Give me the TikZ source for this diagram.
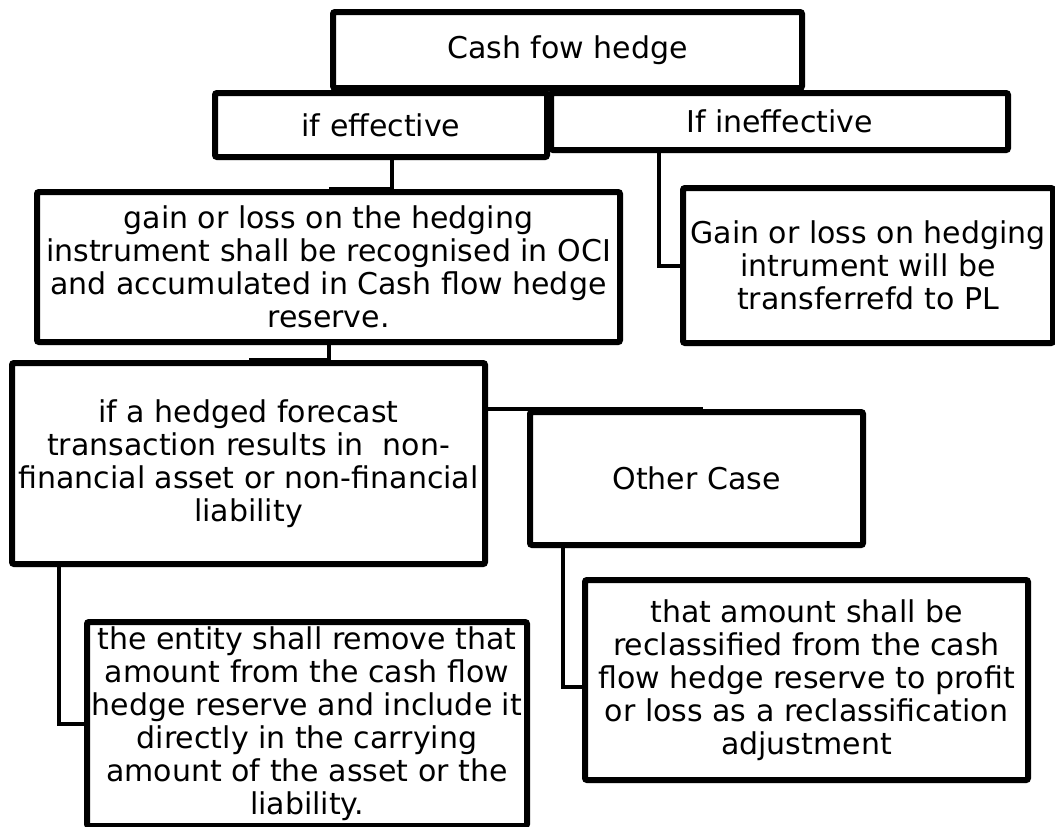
\documentclass[tikz,border=0pt]{standalone}
\usepackage{fontspec}
\setmainfont{DejaVu Sans}
\usetikzlibrary{positioning, shadows}

\begin{document}
\begin{tikzpicture}[
    x=1pt, y=-1pt,
    box/.style={rectangle, draw=black, line width=6pt, fill=white, rounded corners=2pt,
        inner sep=0pt, align=center, font=\fontsize{30}{33}\selectfont,
        drop shadow={shadow xshift=2pt, shadow yshift=-3pt, opacity=0.25}},
    link/.style={line width=4pt}
]
\useasboundingbox (0,0) rectangle (1055,827);

% Top level
\node[box, minimum width=469pt, minimum height=76pt] (cash) at (567.5,50) {Cash fow hedge};

% Effective / ineffective
\node[box, minimum width=332pt, minimum height=64pt] (eff) at (381,125) {if effective};
\node[box, minimum width=457pt, minimum height=57pt] (ineff) at (779.5,121.5) {If ineffective};

% Treatment
\node[box, minimum width=583pt, minimum height=150pt] (gain) at (328.5,267)
    {gain or loss on the hedging\\instrument shall be recognised in OCI\\and accumulated in Cash flow hedge\\reserve.};
\node[box, minimum width=370pt, minimum height=155pt] (topl) at (868,265.5)
    {Gain or loss on hedging\\intrument will be\\transferrefd to PL};

% Cases
\node[box, minimum width=473pt, minimum height=201pt] (nonfin) at (248.5,463.5)
    {if a hedged forecast\\transaction results in~ non-\\financial asset or non-financial\\liability};
\node[box, minimum width=333pt, minimum height=133pt] (other) at (696.5,478.5) {Other Case};

% Outcomes
\node[box, minimum width=440pt, minimum height=204pt] (remove) at (307,724)
    {the entity shall remove that\\amount from the cash flow\\hedge reserve and include it\\directly in the carrying\\amount of the asset or the\\liability.};
\node[box, minimum width=443pt, minimum height=200pt] (reclass) at (806.5,680)
    {that amount shall be\\reclassified from the cash\\flow hedge reserve to profit\\or loss as a reclassification\\adjustment};

% Connectors
\draw[link] (cash.south -| eff.north) -- (eff.north);
\draw[link] (cash.south -| ineff.north west) -- (ineff.north west);
\draw[link] ([xshift=11pt]eff.south) |- (gain.north);
\draw[link] ([xshift=111pt]ineff.south west) |- (topl.west);
\draw[link] (gain.south) |- (nonfin.north);
\draw[link] ([yshift=55pt]nonfin.east) -| ([xshift=4pt]other.north);
\draw[link] ([xshift=50pt]nonfin.south west) |- (remove.west);
\draw[link] ([xshift=36pt]other.south west) |- ([yshift=-7pt]reclass.west);

\end{tikzpicture}
\end{document}
